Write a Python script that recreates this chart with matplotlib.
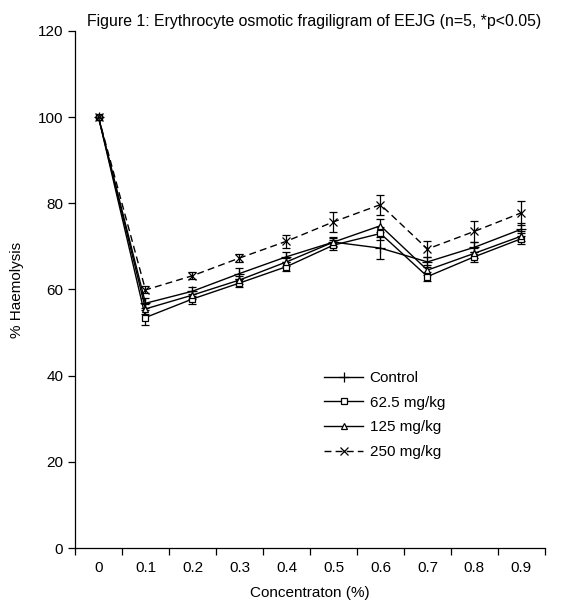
import matplotlib
matplotlib.use("Agg")
import numpy as np
import matplotlib.pyplot as plt
from matplotlib.lines import Line2D

plt.rcParams["font.family"] = ["Liberation Sans", "DejaVu Sans"]

# data
CONC = ["0", "0.1", "0.2", "0.3", "0.4", "0.5", "0.6", "0.7", "0.8", "0.9"]
SERIES = ["Control", "62.5 mg/kg", "125 mg/kg", "250 mg/kg"]
control = [100, 56.8, 59.6, 63.7, 67.6, 71.0, 69.6, 66.4, 69.8, 74.0]
dose_62 = [100, 53.5, 57.8, 61.5, 65.3, 70.3, 73.0, 63.0, 67.6, 71.8]
dose_125 = [100, 55.5, 58.7, 62.2, 66.4, 71.0, 74.8, 64.5, 68.4, 72.4]
dose_250 = [100, 59.9, 63.2, 67.3, 71.2, 75.7, 79.7, 69.4, 73.5, 77.8]
err_control = [0, 1.2, 1.0, 1.2, 1.2, 1.2, 2.6, 1.2, 1.2, 1.5]
err_62 = [0, 1.8, 1.2, 1.0, 1.0, 1.2, 1.5, 1.0, 1.2, 1.2]
err_125 = [0, 1.2, 1.0, 1.0, 1.0, 1.0, 1.5, 1.2, 1.2, 1.2]
err_250 = [0, 0.8, 0.8, 1.0, 1.5, 2.3, 2.3, 1.9, 2.5, 2.8]

STYLE = [
    dict(marker="+", ms=7, ls="-"),
    dict(marker="s", ms=5, ls="-", mfc="white"),
    dict(marker="^", ms=5, ls="-", mfc="white"),
    dict(marker="x", ms=6, ls=(0, (5, 3))),
]

fig = plt.figure(figsize=(5.70, 6.04), dpi=100)
ax = fig.add_axes([0.1316, 0.0927, 0.8244, 0.856])

x = np.arange(len(CONC))
values = [control, dose_62, dose_125, dose_250]
errors = [err_control, err_62, err_125, err_250]
handles = []
for name, y, e, st in zip(SERIES, values, errors, STYLE):
    ax.errorbar(x, y, yerr=e, color="black", lw=1.0, capsize=3, elinewidth=0.9,
                capthick=0.9, mec="black", mew=0.9, **st)
    handles.append(Line2D([0], [0], color="black", lw=1.0, mec="black", mew=0.9,
                          label=name, **st))

ax.set_xlim(-0.5, len(CONC) - 0.5)
ax.set_ylim(0, 120)
ax.set_yticks(np.arange(0, 121, 20))
ax.set_xticks(np.arange(-0.5, len(CONC), 1.0))
ax.set_xticklabels([])
ax.set_xticks(x, minor=True)
ax.set_xticklabels(CONC, minor=True)
ax.tick_params(axis="x", which="major", direction="out", length=5, width=0.9)
ax.tick_params(axis="x", which="minor", length=0, pad=9, labelsize=11)
ax.tick_params(axis="y", direction="out", length=5, width=0.9, labelsize=11)
for s in ("top", "right"):
    ax.spines[s].set_visible(False)
for s in ("left", "bottom"):
    ax.spines[s].set_linewidth(0.9)

ax.set_xlabel("Concentraton (%)", fontsize=11, labelpad=8)
ax.set_ylabel("% Haemolysis", fontsize=11, labelpad=10)
fig.text(0.153, 0.965, "Figure 1: Erythrocyte osmotic fragiligram of EEJG (n=5, *p<0.05)",
         fontsize=11.4, ha="left", va="center")

ax.legend(handles=handles, loc="upper left", bbox_to_anchor=(0.5, 0.369), frameon=False,
          fontsize=11, handlelength=2.6, labelspacing=0.7, handletextpad=0.4)

fig.savefig("out.png", dpi=100)
